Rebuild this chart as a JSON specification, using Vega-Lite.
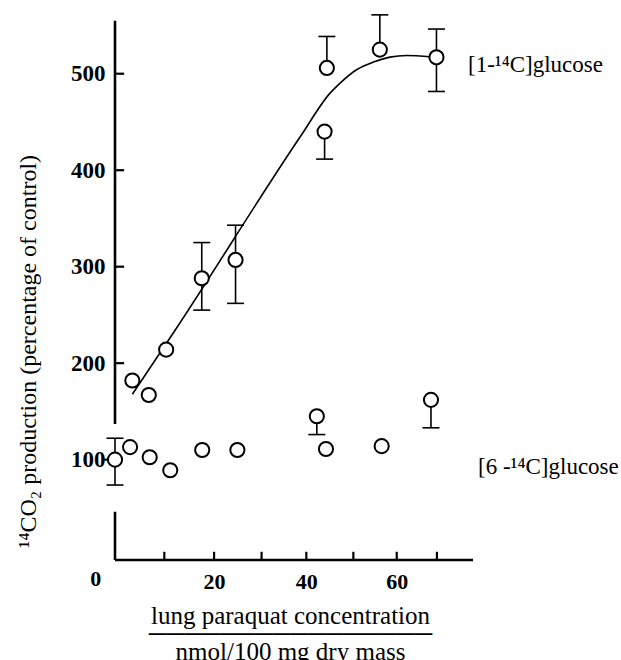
{
  "$schema": "https://vega.github.io/schema/vega-lite/v6.json",
  "width": 500,
  "height": 549,
  "autosize": {"type": "none"},
  "padding": {"left": 115, "top": 11, "right": 6, "bottom": 100},
  "background": "white",
  "config": {"view": {"stroke": null}, "font": "Liberation Serif"},
  "datasets": {
    "points": [
      {"series": "1-14C", "x": 2.1, "y": 182},
      {"series": "1-14C", "x": 5.7, "y": 167},
      {"series": "1-14C", "x": 9.5, "y": 214},
      {"series": "1-14C", "x": 17.3, "y": 288, "lo": 255, "hi": 325},
      {"series": "1-14C", "x": 24.7, "y": 307, "lo": 262, "hi": 343},
      {"series": "1-14C", "x": 44.2, "y": 440, "lo": 411.5, "hi": 440},
      {"series": "1-14C", "x": 44.7, "y": 506, "lo": 506, "hi": 538.6},
      {"series": "1-14C", "x": 56.3, "y": 525, "lo": 525, "hi": 561},
      {"series": "1-14C", "x": 68.7, "y": 517, "lo": 481.6, "hi": 546.3},
      {"series": "6-14C", "x": -1.7, "y": 100, "lo": 73.7, "hi": 122.2},
      {"series": "6-14C", "x": 1.6, "y": 113},
      {"series": "6-14C", "x": 5.9, "y": 102.5},
      {"series": "6-14C", "x": 10.4, "y": 89},
      {"series": "6-14C", "x": 17.4, "y": 110},
      {"series": "6-14C", "x": 25.1, "y": 110},
      {"series": "6-14C", "x": 42.5, "y": 145, "lo": 126, "hi": 145},
      {"series": "6-14C", "x": 44.5, "y": 111},
      {"series": "6-14C", "x": 56.7, "y": 114},
      {"series": "6-14C", "x": 67.5, "y": 162, "lo": 133, "hi": 162}
    ],
    "curve": [
      {"x": 2.1, "y": 167.8},
      {"x": 11.5, "y": 234.4},
      {"x": 38.9, "y": 434.9},
      {"x": 45.4, "y": 479.9},
      {"x": 47.6, "y": 490.3},
      {"x": 51.2, "y": 504.1},
      {"x": 54.9, "y": 512.1},
      {"x": 58.5, "y": 517.2},
      {"x": 62.2, "y": 518.9},
      {"x": 66.6, "y": 517.9},
      {"x": 68.8, "y": 516.8}
    ],
    "labels": [
      {"x": 75.6, "y": 509, "text": "[1-¹⁴C]glucose"},
      {"x": 77.8, "y": 92.7, "text": "[6 -¹⁴C]glucose"}
    ],
    "yticks": [{"v": 200}, {"v": 300}, {"v": 400}, {"v": 500}],
    "xticks": [{"v": 9.1}, {"v": 20}, {"v": 30.4}, {"v": 40.2}, {"v": 50.5}, {"v": 60}, {"v": 68.8}],
    "one": [{}]
  },
  "layer": [
    {
      "data": {"name": "curve"},
      "mark": {"type": "line", "interpolate": "monotone", "color": "black", "strokeWidth": 1.6},
      "encoding": {
        "x": {
          "field": "x", "type": "quantitative",
          "scale": {"domain": [-1.7, 107.8], "nice": false, "zero": false},
          "axis": {
            "values": [9.1, 20, 30.4, 40.2, 50.5, 60, 68.8],
            "labelExpr": "abs(datum.value-20)<1 ? '20' : abs(datum.value-40)<1 ? '40' : abs(datum.value-60)<1 ? '60' : ''",
            "domain": false, "grid": false, "ticks": false,
            "labelPadding": 11, "labelFont": "Liberation Serif", "labelFontWeight": "bold", "labelFontSize": 22, "labelColor": "black",
            "title": ["lung paraquat concentration", "────────────────", "nmol/100 mg dry mass"],
            "titleFont": "Liberation Serif", "titleFontSize": 25, "titleFontWeight": "normal", "titleColor": "black",
            "titleLineHeight": 18, "titlePadding": 11, "titleX": 175
          }
        },
        "y": {
          "field": "y", "type": "quantitative",
          "scale": {"domain": [-4, 565], "nice": false, "zero": false},
          "axis": {
            "values": [100, 200, 300, 400, 500],
            "domain": false, "grid": false, "ticks": false,
            "labelPadding": 10, "labelFont": "Liberation Serif", "labelFontWeight": "bold", "labelFontSize": 23, "labelColor": "black",
            "title": "¹⁴CO₂ production (percentage of control)",
            "titleFont": "Liberation Serif", "titleFontSize": 24, "titleFontWeight": "normal", "titleColor": "black",
            "titlePadding": 30, "titleY": 340
          }
        }
      }
    },
    {
      "data": {"name": "one"},
      "mark": {"type": "rule", "color": "black", "strokeWidth": 2.6},
      "encoding": {"x": {"datum": -1.7}, "y": {"datum": 137}, "y2": {"datum": 555}}
    },
    {
      "data": {"name": "one"},
      "mark": {"type": "rule", "color": "black", "strokeWidth": 2.6},
      "encoding": {"x": {"datum": -1.7}, "y": {"datum": -4}, "y2": {"datum": 46}}
    },
    {
      "data": {"name": "one"},
      "mark": {"type": "rule", "color": "black", "strokeWidth": 2.6},
      "encoding": {"y": {"datum": -4}, "x": {"datum": -1.7}, "x2": {"datum": 76.7}}
    },
    {
      "data": {"name": "yticks"},
      "mark": {"type": "rule", "color": "black", "strokeWidth": 2.2},
      "encoding": {"y": {"field": "v", "type": "quantitative"}, "x": {"datum": -1.7}, "x2": {"datum": 0.3}}
    },
    {
      "data": {"name": "one"},
      "mark": {"type": "rule", "color": "black", "strokeWidth": 2.2},
      "encoding": {"y": {"datum": 100}, "x": {"datum": -4.6}, "x2": {"datum": -1.7}}
    },
    {
      "data": {"name": "xticks"},
      "mark": {"type": "rule", "color": "black", "strokeWidth": 2.2},
      "encoding": {"x": {"field": "v", "type": "quantitative"}, "y": {"datum": -4}, "y2": {"datum": 4.5}}
    },
    {
      "data": {"name": "one"},
      "mark": {"type": "text", "font": "Liberation Serif", "fontWeight": "bold", "fontSize": 22, "color": "black", "dy": 19, "baseline": "middle", "align": "center"},
      "encoding": {"x": {"datum": -5.9}, "y": {"datum": -4}, "text": {"value": "0"}}
    },
    {
      "data": {"name": "points"},
      "transform": [{"filter": "isValid(datum.lo)"}],
      "mark": {"type": "rule", "color": "black", "strokeWidth": 1.6},
      "encoding": {
        "x": {"field": "x", "type": "quantitative"},
        "y": {"field": "lo", "type": "quantitative"},
        "y2": {"field": "hi"}
      }
    },
    {
      "data": {"name": "points"},
      "transform": [{"filter": "isValid(datum.lo) && datum.lo < datum.y"}],
      "mark": {"type": "tick", "orient": "horizontal", "color": "black", "size": 17, "thickness": 1.6, "opacity": 1},
      "encoding": {
        "x": {"field": "x", "type": "quantitative"},
        "y": {"field": "lo", "type": "quantitative"}
      }
    },
    {
      "data": {"name": "points"},
      "transform": [{"filter": "isValid(datum.hi) && datum.hi > datum.y"}],
      "mark": {"type": "tick", "orient": "horizontal", "color": "black", "size": 17, "thickness": 1.6, "opacity": 1},
      "encoding": {
        "x": {"field": "x", "type": "quantitative"},
        "y": {"field": "hi", "type": "quantitative"}
      }
    },
    {
      "data": {"name": "points"},
      "mark": {"type": "point", "shape": "circle", "size": 200, "filled": true, "fill": "white", "stroke": "black", "strokeWidth": 2, "opacity": 1},
      "encoding": {
        "x": {"field": "x", "type": "quantitative"},
        "y": {"field": "y", "type": "quantitative"},
        "detail": {"field": "series"}
      }
    },
    {
      "data": {"name": "labels"},
      "mark": {"type": "text", "font": "Liberation Serif", "fontSize": 23, "color": "black", "align": "left", "baseline": "middle"},
      "encoding": {
        "x": {"field": "x", "type": "quantitative"},
        "y": {"field": "y", "type": "quantitative"},
        "text": {"field": "text"}
      }
    }
  ]
}
